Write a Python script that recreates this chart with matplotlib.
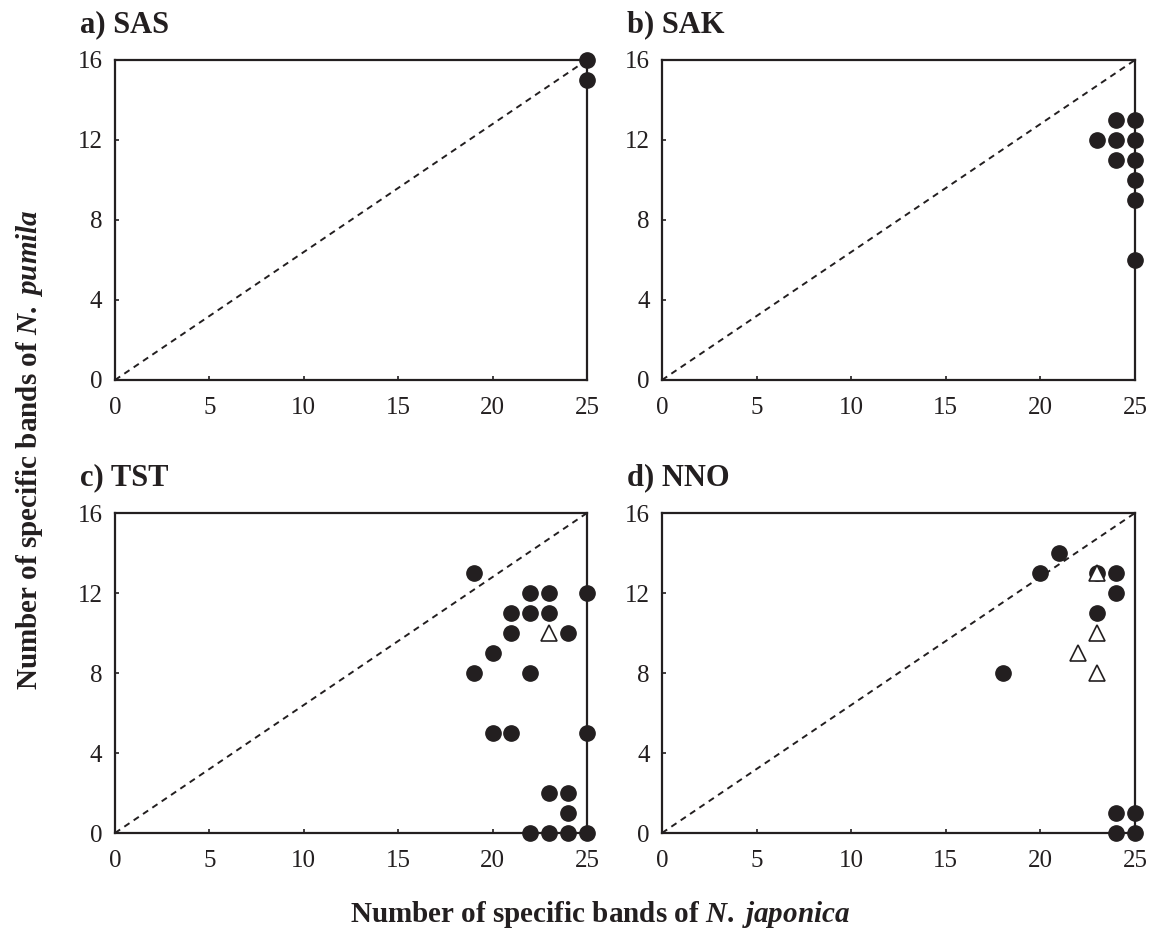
import matplotlib
matplotlib.use("Agg")
import matplotlib.pyplot as plt

plt.rcParams['font.family'] = ['Liberation Serif', 'DejaVu Serif']
plt.rcParams['mathtext.fontset'] = 'custom'
plt.rcParams['mathtext.rm'] = 'Liberation Serif:bold'
plt.rcParams['mathtext.it'] = 'Liberation Serif:italic:bold'
plt.rcParams['mathtext.bf'] = 'Liberation Serif:bold'

INK = '#231f20'

# Panel titles
titles = ['a) SAS', 'b) SAK', 'c) TST', 'd) NNO']

# Filled circles: (N. japonica bands, N. pumila bands)
sas_x = [25, 25]
sas_y = [16, 15]

sak_x = [24, 25, 23, 24, 25, 24, 25, 25, 25, 25]
sak_y = [13, 13, 12, 12, 12, 11, 11, 10, 9, 6]

tst_x = [19, 22, 23, 25, 21, 22, 23, 21, 24, 20, 19, 22, 20, 21, 25, 23, 24, 24, 22, 23, 24, 25]
tst_y = [13, 12, 12, 12, 11, 11, 11, 10, 10, 9, 8, 8, 5, 5, 5, 2, 2, 1, 0, 0, 0, 0]

nno_x = [21, 20, 23, 24, 24, 23, 18, 24, 25, 24, 25]
nno_y = [14, 13, 13, 13, 12, 11, 8, 1, 1, 0, 0]

# Open triangles
sas_tx, sas_ty = [], []
sak_tx, sak_ty = [], []
tst_tx, tst_ty = [23], [10]
nno_tx, nno_ty = [23, 23, 22, 23], [13, 10, 9, 8]

circles = [(sas_x, sas_y), (sak_x, sak_y), (tst_x, tst_y), (nno_x, nno_y)]
triangles = [(sas_tx, sas_ty), (sak_tx, sak_ty), (tst_tx, tst_ty), (nno_tx, nno_ty)]

x_ticks = [0, 5, 10, 15, 20, 25]
y_ticks = [0, 4, 8, 12, 16]
x_max, y_max = 25, 16

W, H = 1161, 940
fig = plt.figure(figsize=(W / 100, H / 100), dpi=100)

# axes boxes in pixels: (left, top, right, bottom)
boxes = [(115, 60, 587, 380), (662, 60, 1135, 380),
         (115, 513, 587, 833), (662, 513, 1135, 833)]

for i, (l, t, r, b) in enumerate(boxes):
    ax = fig.add_axes([l / W, 1 - b / H, (r - l) / W, (b - t) / H])
    ax.set_xlim(0, x_max)
    ax.set_ylim(0, y_max)
    ax.set_xticks(x_ticks)
    ax.set_yticks(y_ticks)
    ax.tick_params(direction='in', length=3, width=1.2, labelsize=18,
                   color=INK, labelcolor=INK)
    ax.tick_params(axis='y', pad=9)
    ax.tick_params(axis='x', pad=12)
    for sp in ax.spines.values():
        sp.set_linewidth(1.6)
        sp.set_color(INK)
    ax.plot([0, x_max], [0, y_max], ls=(0, (3.2, 2.6)), color=INK, lw=1.4, zorder=2)
    cx, cy = circles[i]
    ax.plot(cx, cy, 'o', ms=11, color=INK, mec=INK, clip_on=False, zorder=5)
    tx, ty = triangles[i]
    if tx:
        ax.plot(tx, ty, '^', ms=11, mfc='white', mec=INK, mew=1.2,
                clip_on=False, zorder=6)
    fig.text((l - 35) / W, 1 - (t - 28) / H, titles[i], fontsize=22,
             fontweight='bold', ha='left', va='baseline', color=INK)

fig.text(600 / W, 1 - 915 / H,
         r'Number of specific bands of $\mathit{N.}$ $\mathit{japonica}$',
         fontsize=21, fontweight='bold', ha='center', va='center', color=INK)
fig.text(30 / W, 1 - 450 / H,
         r'Number of specific bands of $\mathit{N.}$ $\mathit{pumila}$',
         fontsize=21, fontweight='bold', ha='center', va='center',
         rotation=90, color=INK)

fig.savefig('out.png', dpi=100)
